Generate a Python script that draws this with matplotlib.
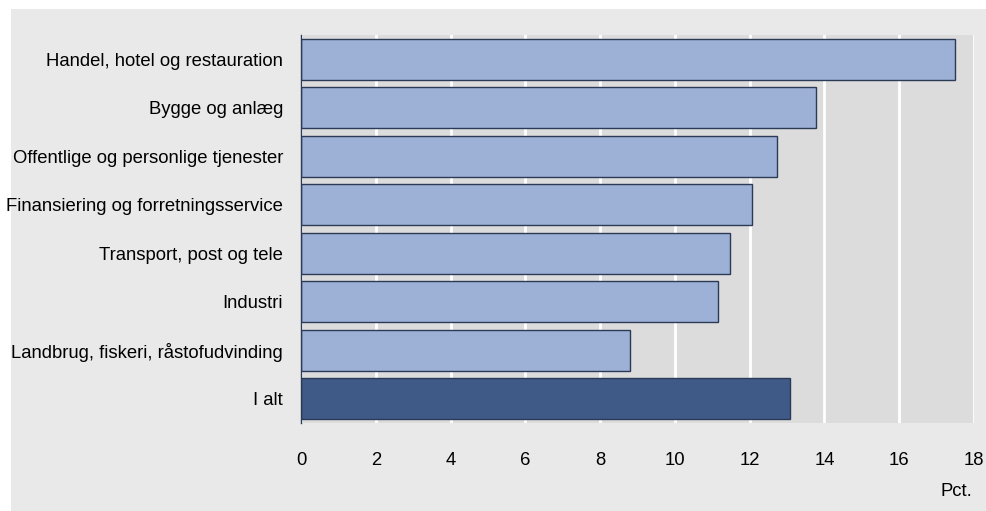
import matplotlib.pyplot as plt
from matplotlib.patches import Rectangle

# Data
categories = ['Handel, hotel og restauration', 'Bygge og anlæg',
              'Offentlige og personlige tjenester', 'Finansiering og forretningsservice',
              'Transport, post og tele', 'Industri',
              'Landbrug, fiskeri, råstofudvinding', 'I alt']
values = [17.5, 13.78, 12.72, 12.05, 11.47, 11.14, 8.79, 13.09]
bar_colors = ['#9db0d5'] * 7 + ['#405a87']
xticks = [0, 2, 4, 6, 8, 10, 12, 14, 16, 18]

plt.rcParams['font.family'] = ['Liberation Sans', 'DejaVu Sans']

fig = plt.figure(figsize=(9.87, 5.11), dpi=100)
fig.patch.set_facecolor('white')
fig.patches.append(Rectangle((11 / 987, 0), 1 - 11 / 987, 1 - 9 / 511,
                             transform=fig.transFigure, facecolor='#e9e9e9',
                             edgecolor='none', zorder=-10))

ax = fig.add_axes([301 / 987, 1 - 423 / 511, 673 / 987, 388 / 511])
ax.set_facecolor('#dcdcdc')

y = list(range(len(categories)))
ax.barh(y, values, height=0.845, color=bar_colors, edgecolor='#2b3a57',
        linewidth=1.0, zorder=3)

ax.set_xlim(0, 18)
ax.set_ylim(len(categories) - 0.5, -0.5)
ax.set_xticks(xticks)
ax.set_xticklabels([str(t) for t in xticks], fontsize=13.3)
ax.set_yticks(y)
ax.set_yticklabels(categories, fontsize=13.3)
ax.tick_params(axis='x', length=0, pad=21)
ax.tick_params(axis='y', length=0, pad=13)

ax.grid(axis='x', color='white', linewidth=2, zorder=1)
ax.set_axisbelow(True)
for s in ['top', 'right', 'bottom']:
    ax.spines[s].set_visible(False)
ax.spines['left'].set_color('#2b3a57')
ax.spines['left'].set_linewidth(1.0)
ax.spines['left'].set_zorder(4)

fig.text(972 / 987, 1 - 492 / 511, 'Pct.', ha='right', va='center', fontsize=13.3)

plt.savefig('out.png', dpi=100)
